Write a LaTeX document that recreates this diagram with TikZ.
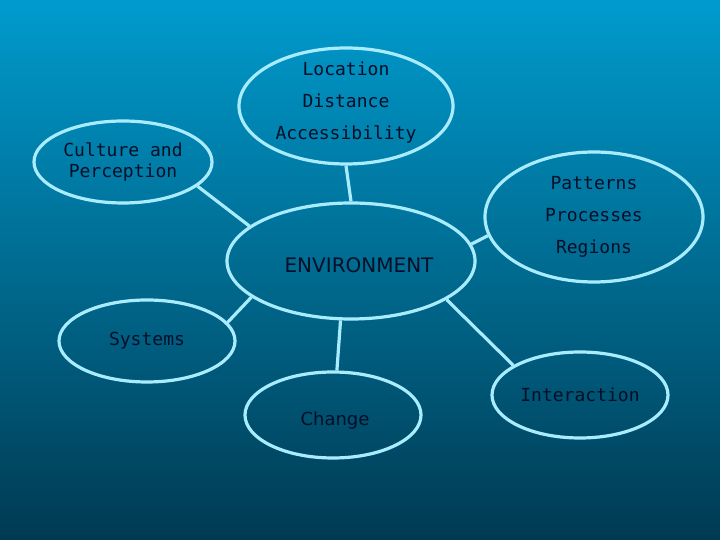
\documentclass[tikz,border=0pt]{standalone}
\usepackage{fontspec}
\setmainfont{DejaVu Sans}
\newfontfamily\conceptmono{DejaVu Sans Mono}
\usetikzlibrary{shapes.geometric}
\definecolor{bgtop}{RGB}{0,155,206}
\definecolor{bgbottom}{RGB}{0,58,82}
\definecolor{ringcol}{RGB}{170,236,255}
\definecolor{inkcol}{RGB}{5,15,40}
\begin{document}
\begin{tikzpicture}
			[x=1pt,y=1pt,
			bubble/.style={ellipse,draw=ringcol,line width=3.2pt,
				inner sep=0pt,text=inkcol,align=center},
			mono/.style={font=\conceptmono\fontsize{18}{32}\selectfont},
			monotight/.style={font=\conceptmono\fontsize{18}{21}\selectfont},
			link/.style={draw=ringcol,line width=3.2pt}]
			\shade[top color=bgtop,bottom color=bgbottom] (0,0) rectangle (720,540);
			\node[bubble,mono,inner ysep=-5pt,minimum width=214,minimum height=116] (loc) at (346,434)
				{Location\\Distance\\Accessibility\rule[-10.5pt]{0pt}{1pt}};
			\node[bubble,monotight,minimum width=178,minimum height=82] (cult) at (123,378)
				{Culture and\\Perception};
			\node[bubble,mono,minimum width=218,minimum height=130] (pat) at (594,323)
				{Patterns\\Processes\\Regions};
			\node[bubble,font=\fontsize{20}{24}\selectfont,minimum width=248,minimum height=116] (env) at (351,279)
				{\hspace*{16pt}\rule{0pt}{23pt}ENVIRONMENT};
			\node[bubble,mono,minimum width=176,minimum height=82] (sys) at (147,199)
				{Systems};
			\node[bubble,font=\fontsize{18}{22}\selectfont,minimum width=176,minimum height=86] (chg) at (333,125)
				{\hspace*{4pt}\rule{0pt}{24pt}Change};
			\node[bubble,mono,minimum width=176,minimum height=86] (inter) at (580,145)
				{Interaction};
			\draw[link] (loc.south) -- (env.north);
			\draw[link] (cult.-18) -- (env.161);
			\draw[link] (env.8) -- (pat.-170);
			\draw[link] (env.-160) -- (sys.13);
			\draw[link] (env.-100) -- (chg.85);
			\draw[link] (env.-22) -- (inter.156);
		\end{tikzpicture}
\end{document}
